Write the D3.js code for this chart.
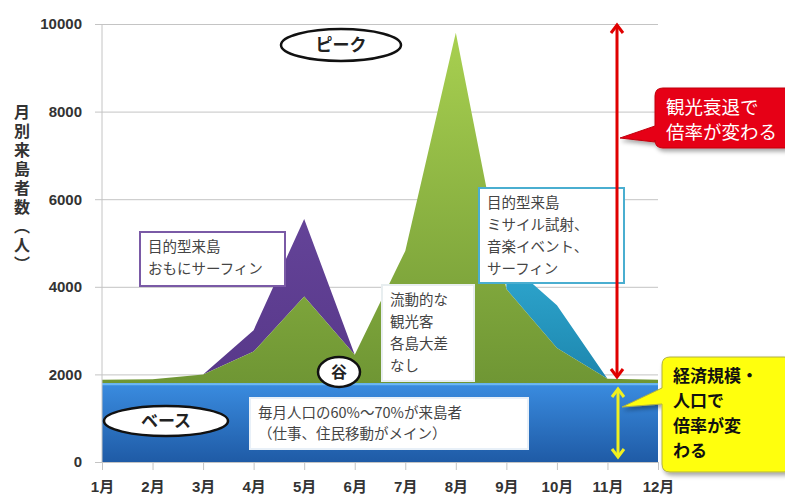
<!DOCTYPE html>
<meta charset="utf-8">
<style>
  body { margin: 0; background: #fff; }
  text { font-family: "Noto Sans CJK JP", "Noto Sans", sans-serif; }
  .tick text { font-family: "Liberation Sans", "Noto Sans CJK JP", sans-serif; font-weight: bold; font-size: 15px; fill: #333; }
  .grid line { stroke: #c4c4c4; }
  .note { font-size: 14.5px; fill: #444; }
</style>
<body>
<script src="https://d3js.org/d3.v7.min.js"></script>
<script>
// months and layers (people per month, stacked)
var months = ["1月", "2月", "3月", "4月", "5月", "6月", "7月", "8月", "9月", "10月", "11月", "12月"];
var base    = [1800, 1800, 1800, 1800, 1800, 1800, 1800, 1800, 1800, 1800, 1800, 1800];
var tourist = [80, 90, 200, 720, 1980, 650, 3020, 8000, 2150, 800, 100, 80];
var surfing = [0, 0, 0, 490, 1770, 0, 0, 0, 0, 0, 0, 0];
var events  = [0, 0, 0, 0, 0, 0, 0, 0, 650, 980, 0, 0];
var yTicks = [0, 2000, 4000, 6000, 8000, 10000];

var width = 785, height = 496;

var svg = d3.select("body").append("svg")
    .attr("width", width)
    .attr("height", height);

var x = d3.scalePoint().domain(months).range([102, 658]);
var y = d3.scaleLinear().domain([0, 10000]).range([462, 24]);

var defs = svg.append("defs");
function grad(id, c1, c2) {
    var g = defs.append("linearGradient").attr("id", id)
        .attr("x1", 0).attr("y1", 0).attr("x2", 0).attr("y2", 1);
    g.append("stop").attr("offset", "0%").attr("stop-color", c1);
    g.append("stop").attr("offset", "100%").attr("stop-color", c2);
}
grad("gBase", "#3a8ce0", "#1f5ba6");
grad("gTour", "#a8d050", "#6f9634");
grad("gSurf", "#7150a8", "#58388a");
grad("gEvt", "#2fa8d0", "#1d86ae");
var sh = defs.append("filter").attr("id", "shadow").attr("x", "-20%").attr("y", "-20%").attr("width", "140%").attr("height", "140%");
sh.append("feDropShadow").attr("dx", 2).attr("dy", 3).attr("stdDeviation", 2).attr("flood-opacity", 0.35);

// grid + y axis
svg.append("g")
    .attr("class", "grid")
    .attr("transform", "translate(95,0)")
    .call(d3.axisLeft(y).tickValues(yTicks).tickFormat(d3.format("d")).tickSize(-(658 - 95)).tickPadding(13))
    .call(function(g) { g.select(".domain").remove(); });

// stacked areas
var table = months.map(function(m, i) {
    return {month: m, base: base[i], tourist: tourist[i], surfing: surfing[i], events: events[i]};
});
var keys = ["base", "tourist", "surfing", "events"];
var fills = {base: "url(#gBase)", tourist: "url(#gTour)", surfing: "url(#gSurf)", events: "url(#gEvt)"};
var series = d3.stack().keys(keys)(table);

function areaFor(s) {
    return d3.area()
        .defined(function(d, i) {
            // event layer only spans Sep-Nov
            return s.key !== "events" || i >= 8;
        })
        .x(function(d) { return x(d.data.month); })
        .y0(function(d) { return y(d[0]); })
        .y1(function(d) { return y(d[1]); })(s);
}

svg.append("g").selectAll("path")
    .data(series.slice().reverse())
    .enter().append("path")
    .attr("d", areaFor)
    .attr("fill", function(d) { return fills[d.key]; });

// light rim on the base top
svg.append("line")
    .attr("x1", x("1月")).attr("x2", x("12月"))
    .attr("y1", y(1800) + 1).attr("y2", y(1800) + 1)
    .attr("stroke", "#6cb8f4").attr("stroke-width", 2);

// y axis line
svg.append("line")
    .attr("x1", 102).attr("x2", 102).attr("y1", y(10000)).attr("y2", y(0))
    .attr("stroke", "#c4c4c4");

// x axis
svg.append("g")
    .attr("class", "grid")
    .attr("transform", "translate(0," + y(0) + ")")
    .call(d3.axisBottom(x).tickSize(8).tickPadding(11))
    .call(function(g) { g.select(".domain").attr("stroke", "#c4c4c4"); });

// y title
svg.append("text")
    .attr("x", 22).attr("y", 104)
    .style("writing-mode", "vertical-rl")
    .style("text-orientation", "upright")
    .attr("font-size", 16).attr("font-weight", "bold").attr("fill", "#333")
    .attr("letter-spacing", 3)
    .text("月別来島者数（人）");

// ellipse labels
function ellipseLabel(cx, cy, rx, ry, label, size) {
    svg.append("ellipse").attr("cx", cx).attr("cy", cy).attr("rx", rx).attr("ry", ry)
        .attr("fill", "#fff").attr("stroke", "#111").attr("stroke-width", 2.5);
    svg.append("text").attr("x", cx).attr("y", cy).attr("dy", "0.36em")
        .attr("text-anchor", "middle").attr("font-size", size).attr("font-weight", "bold")
        .attr("fill", "#222").text(label);
}
ellipseLabel(341, 45, 60, 16, "ピーク", 17);
ellipseLabel(166, 421, 62, 15, "ベース", 17);
ellipseLabel(339, 372, 21, 15, "谷", 16);

// text boxes
function noteBox(x0, y0, w, h, stroke, lines, lh) {
    svg.append("rect").attr("x", x0).attr("y", y0).attr("width", w).attr("height", h)
        .attr("fill", "#fff").attr("stroke", stroke).attr("stroke-width", 2);
    svg.append("text").attr("class", "note")
        .selectAll("tspan").data(lines).enter().append("tspan")
        .attr("x", x0 + 8).attr("y", function(d, i) { return y0 + 20 + i * lh; })
        .text(function(d) { return d; });
}
noteBox(140, 232, 145, 54, "#7a5aa6", ["目的型来島", "おもにサーフィン"], 22);
noteBox(382, 285, 92, 96, "#e8eef0", ["流動的な", "観光客", "各島大差", "なし"], 22);
noteBox(479, 188, 145, 95, "#4aaed0", ["目的型来島", "ミサイル試射、", "音楽イベント、", "サーフィン"], 22);
noteBox(250, 398, 278, 51, "#e8f0f8", ["毎月人口の60%～70%が来島者", "（仕事、住民移動がメイン）"], 21);

// double arrows
function dblArrow(xp, ya, yb, color) {
    var g = svg.append("g").attr("stroke", color).attr("stroke-width", 3).attr("fill", "none");
    g.append("line").attr("x1", xp).attr("x2", xp).attr("y1", ya + 2).attr("y2", yb - 2);
    g.append("path").attr("d", "M" + (xp - 6) + "," + (ya + 9) + "L" + xp + "," + (ya + 1) + "L" + (xp + 6) + "," + (ya + 9));
    g.append("path").attr("d", "M" + (xp - 6) + "," + (yb - 9) + "L" + xp + "," + (yb - 1) + "L" + (xp + 6) + "," + (yb - 9));
}
dblArrow(617, y(10000), 378, "#e00000");
dblArrow(618, 388, 458, "#f0f020");

// callouts
function callout(x0, y0, w, h, tip, baseY, fill, stroke, color, weight, size, lines, top, lh) {
    var r = 8;
    var p = "M" + (x0 + r) + "," + y0 +
        "H" + (x0 + w - r) + "Q" + (x0 + w) + "," + y0 + " " + (x0 + w) + "," + (y0 + r) +
        "V" + (y0 + h - r) + "Q" + (x0 + w) + "," + (y0 + h) + " " + (x0 + w - r) + "," + (y0 + h) +
        "H" + (x0 + r) + "Q" + x0 + "," + (y0 + h) + " " + x0 + "," + (y0 + h - r) +
        "V" + (baseY + 12) + "L" + tip[0] + "," + tip[1] + "L" + x0 + "," + (baseY - 4) +
        "V" + (y0 + r) + "Q" + x0 + "," + y0 + " " + (x0 + r) + "," + y0 + "Z";
    svg.append("path").attr("d", p).attr("fill", fill).attr("stroke", stroke)
        .attr("stroke-width", 1).attr("filter", "url(#shadow)");
    svg.append("text").attr("fill", color).attr("font-size", size).attr("font-weight", weight)
        .selectAll("tspan").data(lines).enter().append("tspan")
        .attr("x", x0 + 11).attr("y", function(d, i) { return y0 + top + i * lh; })
        .text(function(d) { return d; });
}
callout(655, 88, 140, 60, [620, 138], 130, "#e60012", "#c00010", "#fff", "normal", 18.5, ["観光衰退で", "倍率が変わる"], 26, 25);
callout(662, 357, 130, 115, [622, 407], 392, "#ffff10", "#b0b040", "#111", "bold", 17, ["経済規模・", "人口で", "倍率が変", "わる"], 25, 25);
</script>
</body>
